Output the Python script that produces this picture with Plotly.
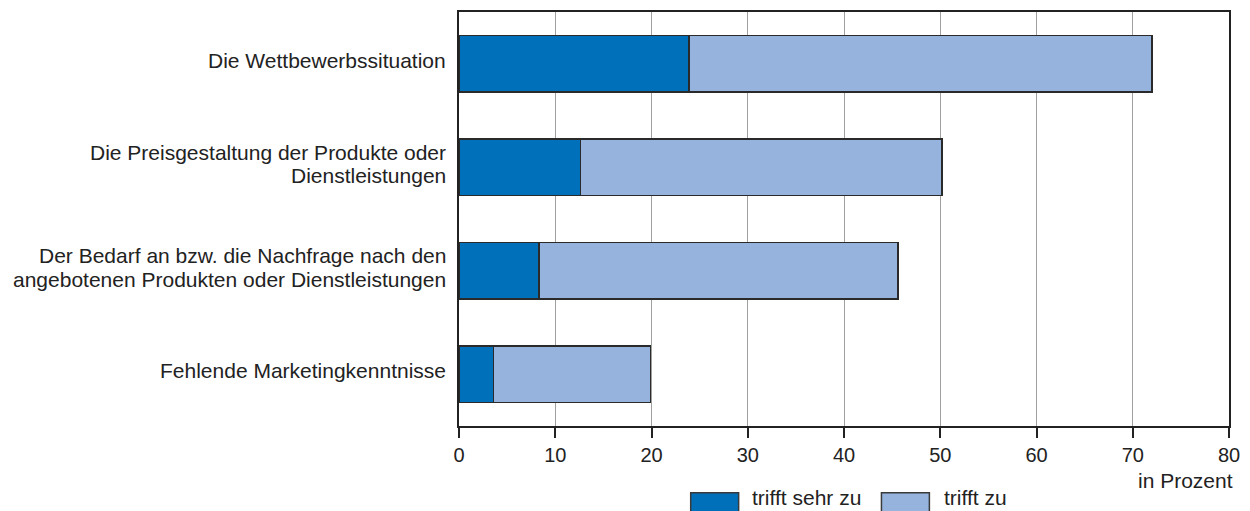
import plotly.graph_objects as go

# Survey statements (top to bottom), split into display lines
categories = [
    "Die Wettbewerbssituation",
    "Die Preisgestaltung der Produkte oder Dienstleistungen",
    "Der Bedarf an bzw. die Nachfrage nach den angebotenen Produkten oder Dienstleistungen",
    "Fehlende Marketingkenntnisse",
]
label_lines = [
    ["Die Wettbewerbssituation"],
    ["Die Preisgestaltung der Produkte oder", "Dienstleistungen"],
    ["Der Bedarf an bzw. die Nachfrage nach den", "angebotenen Produkten oder Dienstleistungen"],
    ["Fehlende Marketingkenntnisse"],
]
# Shares in percent
trifft_sehr_zu = [23.9, 12.6, 8.3, 3.6]
trifft_zu = [48.1, 37.6, 37.3, 16.3]
series_names = ["trifft sehr zu", "trifft zu"]
x_ticks = [0, 10, 20, 30, 40, 50, 60, 70, 80]

DARK = "#0070bb"
LIGHT = "#95b3dc"
TEXT = "#222222"
FONT = "Liberation Sans, Arial, sans-serif"

# Plot area geometry in pixels
L, R, T, B = 459, 20, 10, 85
W, H = 1250, 511
PW, PH = W - L - R, H - T - B


def px_x(px):
    return (px - L) / PW


def px_y(py):
    return (H - B - py) / PH


fig = go.Figure()
for name, vals, col in [(series_names[0], trifft_sehr_zu, DARK),
                        (series_names[1], trifft_zu, LIGHT)]:
    fig.add_trace(go.Bar(
        y=categories, x=vals, name=name, orientation="h",
        marker=dict(color=col, line=dict(color="#2a2a2a", width=1.5)),
        width=0.55, showlegend=False,
    ))

fig.update_layout(
    barmode="stack",
    width=W, height=H,
    margin=dict(l=L, r=R, t=T, b=B),
    paper_bgcolor="white", plot_bgcolor="white",
    font=dict(family=FONT, size=21, color=TEXT),
    xaxis=dict(
        range=[0, 80], tickvals=x_ticks, ticktext=[str(v) for v in x_ticks],
        showgrid=True, gridcolor="#a0a0a0", gridwidth=1,
        showline=True, linecolor="#222222", linewidth=2, mirror=True,
        ticks="outside", ticklen=10, tickcolor="#222222", tickwidth=1.5,
        zeroline=False, tickfont=dict(size=20, color=TEXT),
    ),
    yaxis=dict(
        categoryorder="array", categoryarray=categories[::-1],
        range=[-0.5, 3.5],
        showline=True, linecolor="#222222", linewidth=2, mirror=True,
        ticks="", showticklabels=False, showgrid=False,
    ),
)

# Category labels, right-aligned left of the plot, tight line spacing
LINE_GAP = 23.5
BASE_SHIFT = 3.5
for cat, lines in zip(categories, label_lines):
    n = len(lines)
    for i, line in enumerate(lines):
        fig.add_annotation(
            text=line, xref="paper", yref="y", x=px_x(448), y=cat,
            xanchor="right", yanchor="middle", showarrow=False,
            yshift=((n - 1) / 2 - i) * LINE_GAP + BASE_SHIFT,
            font=dict(size=21, color=TEXT),
        )

# Axis unit
fig.add_annotation(text="in Prozent", xref="paper", yref="paper",
                   x=px_x(1236), y=px_y(481), xanchor="right", yanchor="middle",
                   showarrow=False, font=dict(size=21, color=TEXT))

# Legend: swatches with labels below the axis
legend_items = [(series_names[0], DARK, 691, 750), (series_names[1], LIGHT, 882, 943)]
for name, col, x0, tx in legend_items:
    fig.add_shape(type="rect", xref="paper", yref="paper",
                  x0=px_x(x0), x1=px_x(x0 + 48),
                  y0=px_y(516), y1=px_y(493),
                  fillcolor=col, line=dict(color="#3a3a3a", width=1.5))
    fig.add_annotation(text=name, xref="paper", yref="paper",
                       x=px_x(tx), y=px_y(498),
                       xanchor="left", yanchor="middle", showarrow=False,
                       font=dict(size=21, color=TEXT))

fig.write_html("out.html")
